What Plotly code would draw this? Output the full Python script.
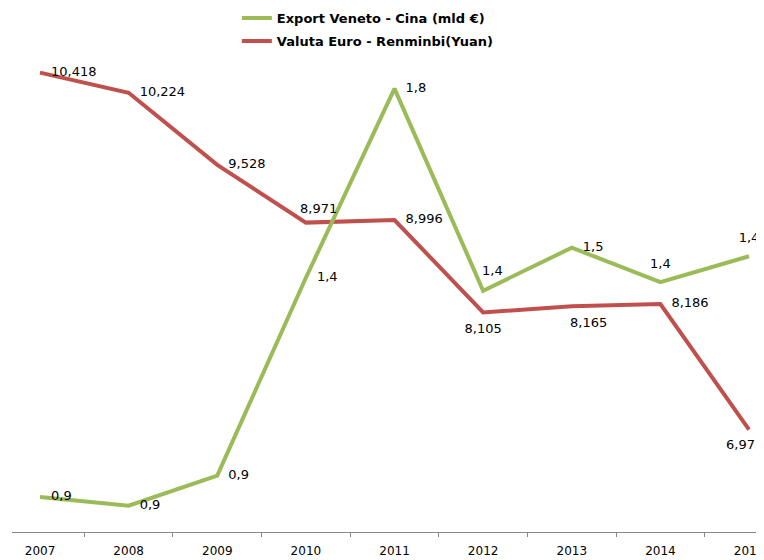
import plotly.graph_objects as go

years = [2007, 2008, 2009, 2010, 2011, 2012, 2013, 2014, 2015]
export_veneto_cina = [0.88, 0.86, 0.93, 1.39, 1.83, 1.36, 1.46, 1.38, 1.44]
euro_renminbi = [10.418, 10.224, 9.528, 8.971, 8.996, 8.105, 8.165, 8.186, 6.973]

name_export = "Export Veneto - Cina (mld €)"
name_valuta = "Valuta Euro - Renminbi(Yuan)"

green = "#9BBB59"
red = "#C0504D"

export_text = [f"{v:.1f}".replace(".", ",") for v in export_veneto_cina]
valuta_text = [f"{v:.3f}".replace(".", ",") for v in euro_renminbi]

pos_export = ["middle right", "middle right", "middle right", "middle right", "middle right",
              "top center", "middle right", "top center", "top center"]
pos_valuta = ["middle right", "middle right", "middle right", "top center", "middle right",
              "bottom center", "bottom right", "middle right", "bottom center"]

# labels placed with a pixel offset (index -> (xshift, yshift))
export_offsets = {5: (9, 20)}
valuta_offsets = {3: (13, 14), 6: (17, -16), 8: (-5, -15)}

label_font = dict(family="DejaVu Sans", size=13, color="#000000")
ghost_marker = dict(size=16, color="rgba(0,0,0,0)", line=dict(width=0))

fig = go.Figure()
fig.add_trace(go.Scatter(
    x=years, y=euro_renminbi, name=name_valuta, mode="lines+markers+text",
    line=dict(color=red, width=4), marker=ghost_marker,
    text=["" if i in valuta_offsets else t for i, t in enumerate(valuta_text)],
    textposition=pos_valuta, textfont=label_font,
    yaxis="y", legend="legend2", cliponaxis=False,
))
fig.add_trace(go.Scatter(
    x=years, y=export_veneto_cina, name=name_export, mode="lines+markers+text",
    line=dict(color=green, width=4), marker=ghost_marker,
    text=["" if i in export_offsets else t for i, t in enumerate(export_text)],
    textposition=pos_export, textfont=label_font,
    yaxis="y2", legend="legend", cliponaxis=False,
))

for i, (dx, dy) in valuta_offsets.items():
    fig.add_annotation(x=years[i], y=euro_renminbi[i], xref="x", yref="y",
                       text=valuta_text[i], showarrow=False, xshift=dx, yshift=dy,
                       font=label_font)
for i, (dx, dy) in export_offsets.items():
    fig.add_annotation(x=years[i], y=export_veneto_cina[i], xref="x", yref="y2",
                       text=export_text[i], showarrow=False, xshift=dx, yshift=dy,
                       font=label_font)

legend_font = dict(family="DejaVu Sans", size=13, color="#000000", weight="bold")
fig.update_layout(
    width=756, height=552,
    margin=dict(l=4, r=0, t=52, b=28, autoexpand=False),
    paper_bgcolor="white", plot_bgcolor="white",
    xaxis=dict(
        range=[2006.684, 2015.169],
        tickmode="array", tickvals=years, ticktext=[str(y) for y in years],
        ticks="", showgrid=False, zeroline=False,
        showline=True, linecolor="#888888", linewidth=1,
        tickfont=dict(family="DejaVu Sans", size=12, color="#000000"),
        ticklabelstandoff=8, ticklabeloverflow="allow",
        minor=dict(tick0=2006.5, dtick=1, ticks="outside", ticklen=4,
                   tickcolor="#888888", tickwidth=1, showgrid=False),
    ),
    yaxis=dict(range=[5.986, 10.540], visible=False),
    yaxis2=dict(range=[0.7988, 1.8965], visible=False, overlaying="y", side="right"),
    showlegend=True,
    legend=dict(x=0.299, y=1.089, xanchor="left", yanchor="middle",
                font=legend_font, bgcolor="rgba(0,0,0,0)"),
    legend2=dict(x=0.299, y=1.0403, xanchor="left", yanchor="middle",
                 font=legend_font, bgcolor="rgba(0,0,0,0)"),
)

fig.write_html("out.html")
